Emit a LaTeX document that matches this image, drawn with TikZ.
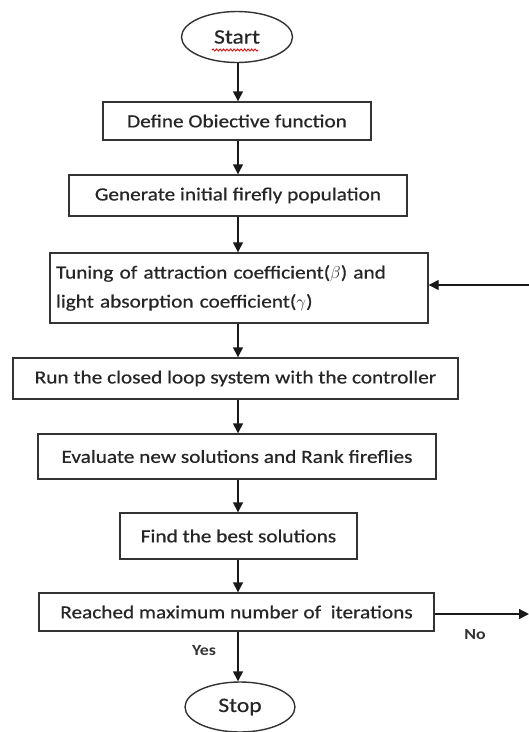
\documentclass[tikz,border=0pt]{standalone}
\usepackage{fontspec}
\setmainfont{Carlito}
\newfontfamily\diagfont[FakeStretch=1.15,FakeBold=0.6]{Carlito}
\newfontfamily\lblfont[FakeStretch=1.15]{Carlito Bold}
\usetikzlibrary{arrows.meta,decorations.pathmorphing,shapes.geometric}
\begin{document}
\begin{tikzpicture}[x=1pt,y=-1pt,
  box/.style={draw=black!80, line width=1.4pt, rectangle, inner sep=0pt,
    text=black!85, font=\diagfont\fontsize{18.5}{29}\selectfont},
  term/.style={draw=black!80, line width=1.4pt, ellipse, inner sep=0pt,
    text=black!85, font=\diagfont\fontsize{20.5}{24}\selectfont},
  arr/.style={draw=black!90, line width=1.4pt, -{Triangle[length=10pt,width=10pt]}},
  lbl/.style={inner sep=0pt, text=black!80, font=\lblfont\fontsize{15.5}{18}\selectfont},
  spell/.style={draw=red!85!black, line width=0.8pt, decorate,
    decoration={snake, amplitude=1.1pt, segment length=3.5pt}}]
\useasboundingbox (0,0) rectangle (529,732);
\coordinate (ax) at (238,0);
\node[term, minimum width=111pt, minimum height=51pt] (start) at (237,37) {Start};
\node[box, minimum width=268pt, minimum height=38pt] (def) at (237,121) {Define Obiective function};
\node[box, minimum width=338pt, minimum height=41pt] (gen) at (238,195.5) {Generate initial firefly population};
\node[box, minimum width=378pt, minimum height=70pt, text width=366pt, align=left] (tune) at (239,288)
  {Tuning of attraction coefficient($\beta$) and\\light absorption coefficient($\gamma$)};
\node[box, minimum width=445pt, minimum height=41pt] (run) at (235.5,378.5) {Run the closed loop system with the controller};
\node[box, minimum width=398pt, minimum height=45pt] (eval) at (237,456.5) {Evaluate new solutions and Rank fireflies};
\node[box, minimum width=237pt, minimum height=46pt] (best) at (238.5,536) {Find the best solutions};
\node[box, minimum width=395pt, minimum height=38pt] (reach) at (236.5,612) {Reached maximum number of\ \ iterations};
\node[term, minimum width=110pt, minimum height=50pt] (stop) at (240,707) {Stop};
\node[lbl] (yes) at (204,651) {Yes};
\node[lbl] (no) at (475,635) {No};
\coordinate (sp1) at (212,50);
\coordinate (sp2) at (258,50);
\draw[spell] (sp1) -- (sp2);
\coordinate (retin) at (529,285);
\coordinate (noout) at (529,614);
\draw[arr] (start.south -| ax) -- (def.north -| ax);
\draw[arr] (def.south -| ax) -- (gen.north -| ax);
\draw[arr] (gen.south -| ax) -- (tune.north -| ax);
\draw[arr] (tune.south -| ax) -- (run.north -| ax);
\draw[arr] (run.south -| ax) -- (eval.north -| ax);
\draw[arr] (eval.south -| ax) -- (best.north -| ax);
\draw[arr] (best.south -| ax) -- (reach.north -| ax);
\draw[arr] (reach.south -| ax) -- (stop.north -| ax);
\draw[arr] (retin) -- (tune.east |- retin);
\draw[arr] (reach.east |- noout) -- (noout);
\end{tikzpicture}
\end{document}
